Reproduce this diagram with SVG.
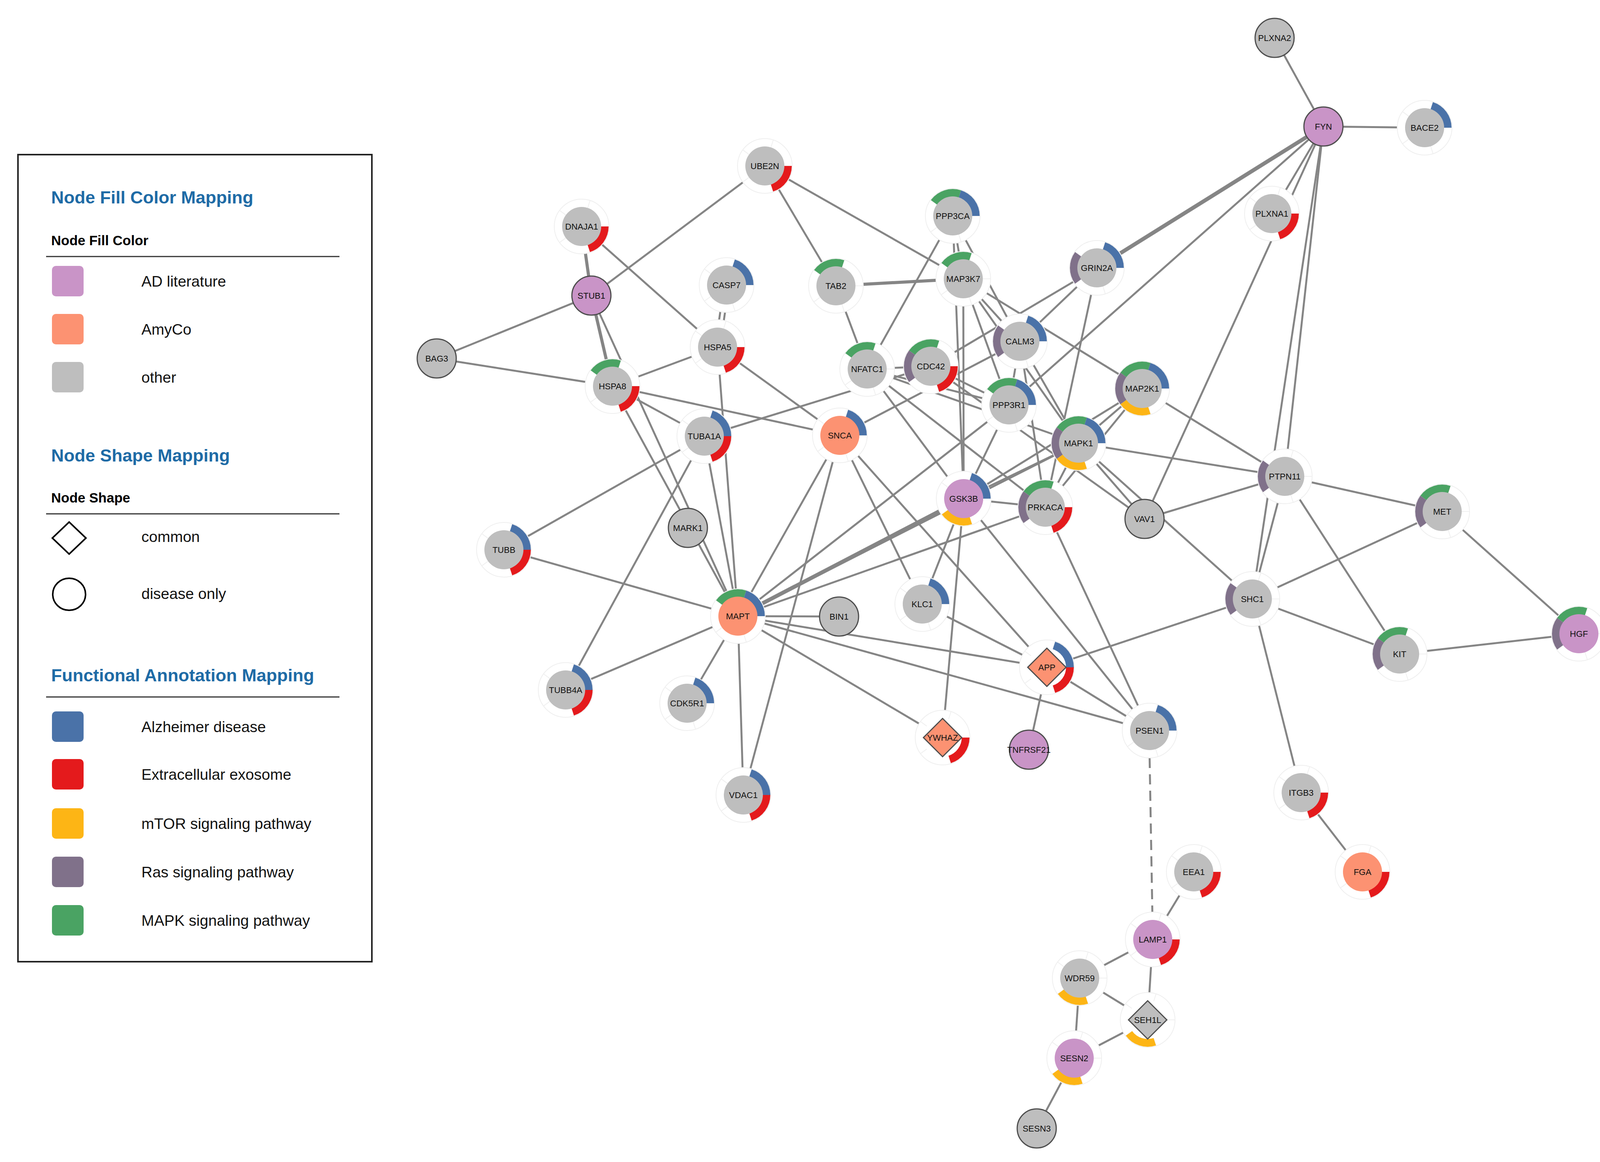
<svg xmlns="http://www.w3.org/2000/svg" xmlns:xlink="http://www.w3.org/1999/xlink" width="4125" height="2976" viewBox="0 0 4125 2976">
<style>
.e{stroke:#858585;stroke-width:5;fill:none;stroke-linecap:butt}
.tk{stroke-width:10}
.md{stroke-width:8}
.ds{stroke-dasharray:26 16}
.aB{stroke:#4a72a8;stroke-width:20;fill:none}
.aR{stroke:#e41a1c;stroke-width:20;fill:none}
.aY{stroke:#fdb515;stroke-width:20;fill:none}
.aP{stroke:#80718a;stroke-width:20;fill:none}
.aG{stroke:#4aa363;stroke-width:20;fill:none}
.ng{fill:#bebebe}
.np{fill:#c994c7}
.no{fill:#fc9272}
.bd{stroke:#4d4d4d;stroke-width:3}
.lbl{font-family:"Liberation Sans",Arial,sans-serif;font-size:22px;text-anchor:middle;fill:#111}
.lt{font-family:"Liberation Sans",Arial,sans-serif;font-size:45px;font-weight:bold;fill:#1e6ba6}
.ls{font-family:"Liberation Sans",Arial,sans-serif;font-size:35px;font-weight:bold;fill:#000}
.li{font-family:"Liberation Sans",Arial,sans-serif;font-size:39px;fill:#111}
.rule{stroke:#333;stroke-width:3}
</style>
<defs>
<g id="halo">
<circle r="70" fill="#fff" stroke="#efefef" stroke-width="2"/>
<path d="M15.45,-47.55L21.63,-66.57M50,0L70,0M15.45,47.55L21.63,66.57M-40.45,29.39L-56.63,41.15M-40.45,-29.39L-56.63,-41.15" stroke="#f0f0f0" stroke-width="2" fill="none"/>
</g>
<path id="aB" class="aB" d="M18.23,-56.11A59,59 0 0 1 59,0"/>
<path id="aR" class="aR" d="M59,0A59,59 0 0 1 18.23,56.11"/>
<path id="aY" class="aY" d="M18.23,56.11A59,59 0 0 1 -47.73,34.68"/>
<path id="aP" class="aP" d="M-47.73,34.68A59,59 0 0 1 -47.73,-34.68"/>
<path id="aG" class="aG" d="M-47.73,-34.68A59,59 0 0 1 18.23,-56.11"/>
</defs>
<rect width="4125" height="2976" fill="#fff"/>

<g id="legend">
<rect x="46" y="396" width="906" height="2067" fill="none" stroke="#222" stroke-width="4"/>
<text class="lt" x="131" y="521">Node Fill Color Mapping</text>
<text class="ls" x="131" y="628">Node Fill Color</text>
<line class="rule" x1="118" y1="657" x2="869" y2="657"/>
<rect x="133" y="681" width="81" height="78" rx="10" fill="#c994c7"/>
<text class="li" x="362" y="734">AD literature</text>
<rect x="133" y="804" width="81" height="78" rx="10" fill="#fc9272"/>
<text class="li" x="362" y="857">AmyCo</text>
<rect x="133" y="927" width="81" height="78" rx="10" fill="#bebebe"/>
<text class="li" x="362" y="980">other</text>
<text class="lt" x="131" y="1182">Node Shape Mapping</text>
<text class="ls" x="131" y="1287">Node Shape</text>
<line class="rule" x1="118" y1="1316" x2="869" y2="1316"/>
<path d="M177,1337L220,1378L177,1419L134,1378Z" fill="none" stroke="#000" stroke-width="4"/>
<text class="li" x="362" y="1388">common</text>
<ellipse cx="177" cy="1522" rx="42" ry="41" fill="none" stroke="#000" stroke-width="4"/>
<text class="li" x="362" y="1534">disease only</text>
<text class="lt" x="131" y="1745">Functional Annotation Mapping</text>
<line class="rule" x1="118" y1="1785" x2="869" y2="1785"/>
<rect x="133" y="1822" width="81" height="78" rx="10" fill="#4a72a8"/>
<text class="li" x="362" y="1875">Alzheimer disease</text>
<rect x="133" y="1944" width="81" height="78" rx="10" fill="#e41a1c"/>
<text class="li" x="362" y="1997">Extracellular exosome</text>
<rect x="133" y="2070" width="81" height="78" rx="10" fill="#fdb515"/>
<text class="li" x="362" y="2123">mTOR signaling pathway</text>
<rect x="133" y="2194" width="81" height="78" rx="10" fill="#80718a"/>
<text class="li" x="362" y="2247">Ras signaling pathway</text>
<rect x="133" y="2318" width="81" height="78" rx="10" fill="#4aa363"/>
<text class="li" x="362" y="2371">MAPK signaling pathway</text>
</g>

<g id="edges">
<line class="e" x1="3263" y1="97" x2="3388" y2="324"/>
<line class="e" x1="3388" y1="324" x2="3647" y2="327"/>
<line class="e tk" x1="3388" y1="324" x2="2808" y2="686"/>
<line class="e" x1="3388" y1="324" x2="2583" y2="1037"/>
<line class="e" x1="3388" y1="324" x2="3256" y2="547"/>
<line class="e" x1="3388" y1="324" x2="2930" y2="1329"/>
<line class="e" x1="3388" y1="324" x2="3289" y2="1220"/>
<line class="e" x1="3388" y1="324" x2="3206" y2="1534"/>
<line class="e" x1="1958" y1="425" x2="1514" y2="757"/>
<line class="e" x1="1958" y1="425" x2="2140" y2="732"/>
<line class="e" x1="1958" y1="425" x2="2466" y2="714"/>
<line class="e md" x1="1489" y1="580" x2="1514" y2="757"/>
<line class="e" x1="1489" y1="580" x2="1837" y2="889"/>
<line class="e" x1="1514" y1="757" x2="1118" y2="918"/>
<line class="e md" x1="1514" y1="757" x2="1568" y2="989"/>
<line class="e" x1="1514" y1="757" x2="1889" y2="1578"/>
<line class="e" x1="1118" y1="918" x2="1568" y2="989"/>
<line class="e" x1="1866" y1="731" x2="1843" y2="890"/>
<line class="e" x1="1854" y1="729" x2="1831" y2="888"/>
<line class="e" x1="1837" y1="889" x2="1568" y2="989"/>
<line class="e" x1="1837" y1="889" x2="2150" y2="1115"/>
<line class="e" x1="1837" y1="889" x2="1889" y2="1578"/>
<line class="e" x1="1568" y1="989" x2="2150" y2="1115"/>
<line class="e" x1="1568" y1="989" x2="1803" y2="1117"/>
<line class="e" x1="1568" y1="989" x2="1889" y2="1578"/>
<line class="e" x1="1803" y1="1117" x2="1290" y2="1408"/>
<line class="e" x1="1803" y1="1117" x2="1448" y2="1767"/>
<line class="e" x1="1803" y1="1117" x2="1889" y2="1578"/>
<line class="e" x1="1803" y1="1117" x2="2383" y2="938"/>
<line class="e" x1="1290" y1="1408" x2="1889" y2="1578"/>
<line class="e" x1="1448" y1="1767" x2="1889" y2="1578"/>
<line class="e" x1="1759" y1="1801" x2="1889" y2="1578"/>
<line class="e" x1="1903" y1="2036" x2="1889" y2="1578"/>
<line class="e" x1="1903" y1="2036" x2="2150" y2="1115"/>
<line class="e" x1="2150" y1="1115" x2="1889" y2="1578"/>
<line class="e" x1="2150" y1="1115" x2="2361" y2="1547"/>
<line class="e" x1="2150" y1="1115" x2="2680" y2="1709"/>
<line class="e" x1="2150" y1="1115" x2="2611" y2="874"/>
<line class="e" x1="1889" y1="1578" x2="2148" y2="1579"/>
<line class="e" x1="1889" y1="1578" x2="2680" y2="1709"/>
<line class="e" x1="1889" y1="1578" x2="2943" y2="1871"/>
<line class="e" x1="1889" y1="1578" x2="2413" y2="1889"/>
<line class="e tk" x1="1889" y1="1578" x2="2467" y2="1277"/>
<line class="e" x1="1889" y1="1578" x2="2761" y2="1135"/>
<line class="e" x1="1889" y1="1578" x2="2676" y2="1299"/>
<line class="e" x1="1889" y1="1578" x2="2583" y2="1037"/>
<line class="e" x1="2439" y1="553" x2="2220" y2="945"/>
<line class="e" x1="2439" y1="553" x2="2466" y2="714"/>
<line class="e" x1="2439" y1="553" x2="2467" y2="1277"/>
<line class="e" x1="2439" y1="553" x2="2611" y2="874"/>
<line class="e md" x1="2140" y1="732" x2="2466" y2="714"/>
<line class="e" x1="2140" y1="732" x2="2220" y2="945"/>
<line class="e" x1="2466" y1="714" x2="2467" y2="1277"/>
<line class="e" x1="2466" y1="714" x2="2611" y2="874"/>
<line class="e" x1="2466" y1="714" x2="2924" y2="995"/>
<line class="e" x1="2466" y1="714" x2="2583" y2="1037"/>
<line class="e" x1="2466" y1="714" x2="2761" y2="1135"/>
<line class="e" x1="2808" y1="686" x2="2611" y2="874"/>
<line class="e" x1="2808" y1="686" x2="2383" y2="938"/>
<line class="e" x1="2808" y1="686" x2="2676" y2="1299"/>
<line class="e" x1="2611" y1="874" x2="2583" y2="1037"/>
<line class="e" x1="2611" y1="874" x2="2761" y2="1135"/>
<line class="e" x1="2611" y1="874" x2="2676" y2="1299"/>
<line class="e" x1="2220" y1="945" x2="2383" y2="938"/>
<line class="e" x1="2220" y1="945" x2="2583" y2="1037"/>
<line class="e" x1="2220" y1="945" x2="2467" y2="1277"/>
<line class="e" x1="2220" y1="945" x2="2676" y2="1299"/>
<line class="e" x1="2220" y1="945" x2="2761" y2="1135"/>
<line class="e" x1="2383" y1="938" x2="2583" y2="1037"/>
<line class="e" x1="2383" y1="938" x2="2930" y2="1329"/>
<line class="e" x1="2583" y1="1037" x2="2467" y2="1277"/>
<line class="e" x1="2924" y1="995" x2="2761" y2="1135"/>
<line class="e" x1="2924" y1="995" x2="3289" y2="1220"/>
<line class="e" x1="2924" y1="995" x2="2467" y2="1277"/>
<line class="e" x1="2924" y1="995" x2="2676" y2="1299"/>
<line class="e" x1="2761" y1="1135" x2="2467" y2="1277"/>
<line class="e" x1="2761" y1="1135" x2="2676" y2="1299"/>
<line class="e" x1="2761" y1="1135" x2="2930" y2="1329"/>
<line class="e" x1="2761" y1="1135" x2="3289" y2="1220"/>
<line class="e" x1="2761" y1="1135" x2="3206" y2="1534"/>
<line class="e" x1="2467" y1="1277" x2="2676" y2="1299"/>
<line class="e" x1="2467" y1="1277" x2="2361" y2="1547"/>
<line class="e" x1="2467" y1="1277" x2="2413" y2="1889"/>
<line class="e" x1="2467" y1="1277" x2="2943" y2="1871"/>
<line class="e" x1="2676" y1="1299" x2="2943" y2="1871"/>
<line class="e" x1="2930" y1="1329" x2="3289" y2="1220"/>
<line class="e" x1="3289" y1="1220" x2="3206" y2="1534"/>
<line class="e" x1="3289" y1="1220" x2="3692" y2="1310"/>
<line class="e" x1="3289" y1="1220" x2="3583" y2="1675"/>
<line class="e" x1="3206" y1="1534" x2="3692" y2="1310"/>
<line class="e" x1="3206" y1="1534" x2="3583" y2="1675"/>
<line class="e" x1="3206" y1="1534" x2="3331" y2="2030"/>
<line class="e" x1="3206" y1="1534" x2="2680" y2="1709"/>
<line class="e" x1="3692" y1="1310" x2="4042" y2="1623"/>
<line class="e" x1="3583" y1="1675" x2="4042" y2="1623"/>
<line class="e" x1="2361" y1="1547" x2="2680" y2="1709"/>
<line class="e" x1="2680" y1="1709" x2="2634" y2="1920"/>
<line class="e" x1="2680" y1="1709" x2="2943" y2="1871"/>
<line class="e" x1="3331" y1="2030" x2="3488" y2="2233"/>
<line class="e ds" x1="2943" y1="1941" x2="2950" y2="2336"/>
<line class="e" x1="3056" y1="2233" x2="2951" y2="2406"/>
<line class="e" x1="2951" y1="2406" x2="2764" y2="2505"/>
<line class="e" x1="2951" y1="2406" x2="2938" y2="2612"/>
<line class="e" x1="2764" y1="2505" x2="2938" y2="2612"/>
<line class="e" x1="2764" y1="2505" x2="2750" y2="2710"/>
<line class="e" x1="2750" y1="2710" x2="2938" y2="2612"/>
<line class="e" x1="2750" y1="2710" x2="2654" y2="2890"/>
</g>

<g id="n-PLXNA2"><circle cx="3263" cy="97" r="50" class="ng bd"/><text class="lbl" x="3263" y="105">PLXNA2</text></g>
<g id="n-FYN"><circle cx="3388" cy="324" r="50" class="np bd"/><text class="lbl" x="3388" y="332">FYN</text></g>
<g id="n-BACE2"><use href="#halo" x="3647" y="327"/><use href="#aB" x="3647" y="327"/><circle cx="3647" cy="327" r="50" class="ng"/><text class="lbl" x="3647" y="335">BACE2</text></g>
<g id="n-UBE2N"><use href="#halo" x="1958" y="425"/><use href="#aR" x="1958" y="425"/><circle cx="1958" cy="425" r="50" class="ng"/><text class="lbl" x="1958" y="433">UBE2N</text></g>
<g id="n-PPP3CA"><use href="#halo" x="2439" y="553"/><use href="#aG" x="2439" y="553"/><use href="#aB" x="2439" y="553"/><circle cx="2439" cy="553" r="50" class="ng"/><text class="lbl" x="2439" y="561">PPP3CA</text></g>
<g id="n-PLXNA1"><use href="#halo" x="3256" y="547"/><use href="#aR" x="3256" y="547"/><circle cx="3256" cy="547" r="50" class="ng"/><text class="lbl" x="3256" y="555">PLXNA1</text></g>
<g id="n-DNAJA1"><use href="#halo" x="1489" y="580"/><use href="#aR" x="1489" y="580"/><circle cx="1489" cy="580" r="50" class="ng"/><text class="lbl" x="1489" y="588">DNAJA1</text></g>
<g id="n-GRIN2A"><use href="#halo" x="2808" y="686"/><use href="#aP" x="2808" y="686"/><use href="#aB" x="2808" y="686"/><circle cx="2808" cy="686" r="50" class="ng"/><text class="lbl" x="2808" y="694">GRIN2A</text></g>
<g id="n-MAP3K7"><use href="#halo" x="2466" y="714"/><use href="#aG" x="2466" y="714"/><circle cx="2466" cy="714" r="50" class="ng"/><text class="lbl" x="2466" y="722">MAP3K7</text></g>
<g id="n-CASP7"><use href="#halo" x="1860" y="730"/><use href="#aB" x="1860" y="730"/><circle cx="1860" cy="730" r="50" class="ng"/><text class="lbl" x="1860" y="738">CASP7</text></g>
<g id="n-TAB2"><use href="#halo" x="2140" y="732"/><use href="#aG" x="2140" y="732"/><circle cx="2140" cy="732" r="50" class="ng"/><text class="lbl" x="2140" y="740">TAB2</text></g>
<g id="n-STUB1"><circle cx="1514" cy="757" r="50" class="np bd"/><text class="lbl" x="1514" y="765">STUB1</text></g>
<g id="n-CALM3"><use href="#halo" x="2611" y="874"/><use href="#aP" x="2611" y="874"/><use href="#aB" x="2611" y="874"/><circle cx="2611" cy="874" r="50" class="ng"/><text class="lbl" x="2611" y="882">CALM3</text></g>
<g id="n-HSPA5"><use href="#halo" x="1837" y="889"/><use href="#aR" x="1837" y="889"/><circle cx="1837" cy="889" r="50" class="ng"/><text class="lbl" x="1837" y="897">HSPA5</text></g>
<g id="n-BAG3"><circle cx="1118" cy="918" r="50" class="ng bd"/><text class="lbl" x="1118" y="926">BAG3</text></g>
<g id="n-NFATC1"><use href="#halo" x="2220" y="945"/><use href="#aG" x="2220" y="945"/><circle cx="2220" cy="945" r="50" class="ng"/><text class="lbl" x="2220" y="953">NFATC1</text></g>
<g id="n-CDC42"><use href="#halo" x="2383" y="938"/><use href="#aG" x="2383" y="938"/><use href="#aP" x="2383" y="938"/><use href="#aR" x="2383" y="938"/><circle cx="2383" cy="938" r="50" class="ng"/><text class="lbl" x="2383" y="946">CDC42</text></g>
<g id="n-HSPA8"><use href="#halo" x="1568" y="989"/><use href="#aG" x="1568" y="989"/><use href="#aR" x="1568" y="989"/><circle cx="1568" cy="989" r="50" class="ng"/><text class="lbl" x="1568" y="997">HSPA8</text></g>
<g id="n-MAP2K1"><use href="#halo" x="2924" y="995"/><use href="#aG" x="2924" y="995"/><use href="#aB" x="2924" y="995"/><use href="#aP" x="2924" y="995"/><use href="#aY" x="2924" y="995"/><circle cx="2924" cy="995" r="50" class="ng"/><text class="lbl" x="2924" y="1003">MAP2K1</text></g>
<g id="n-PPP3R1"><use href="#halo" x="2583" y="1037"/><use href="#aG" x="2583" y="1037"/><use href="#aB" x="2583" y="1037"/><circle cx="2583" cy="1037" r="50" class="ng"/><text class="lbl" x="2583" y="1045">PPP3R1</text></g>
<g id="n-TUBA1A"><use href="#halo" x="1803" y="1117"/><use href="#aB" x="1803" y="1117"/><use href="#aR" x="1803" y="1117"/><circle cx="1803" cy="1117" r="50" class="ng"/><text class="lbl" x="1803" y="1125">TUBA1A</text></g>
<g id="n-SNCA"><use href="#halo" x="2150" y="1115"/><use href="#aB" x="2150" y="1115"/><circle cx="2150" cy="1115" r="50" class="no"/><text class="lbl" x="2150" y="1123">SNCA</text></g>
<g id="n-MAPK1"><use href="#halo" x="2761" y="1135"/><use href="#aG" x="2761" y="1135"/><use href="#aB" x="2761" y="1135"/><use href="#aP" x="2761" y="1135"/><use href="#aY" x="2761" y="1135"/><circle cx="2761" cy="1135" r="50" class="ng"/><text class="lbl" x="2761" y="1143">MAPK1</text></g>
<g id="n-PTPN11"><use href="#halo" x="3289" y="1220"/><use href="#aP" x="3289" y="1220"/><circle cx="3289" cy="1220" r="50" class="ng"/><text class="lbl" x="3289" y="1228">PTPN11</text></g>
<g id="n-GSK3B"><use href="#halo" x="2467" y="1277"/><use href="#aB" x="2467" y="1277"/><use href="#aY" x="2467" y="1277"/><circle cx="2467" cy="1277" r="50" class="np"/><text class="lbl" x="2467" y="1285">GSK3B</text></g>
<g id="n-PRKACA"><use href="#halo" x="2676" y="1299"/><use href="#aG" x="2676" y="1299"/><use href="#aP" x="2676" y="1299"/><use href="#aR" x="2676" y="1299"/><circle cx="2676" cy="1299" r="50" class="ng"/><text class="lbl" x="2676" y="1307">PRKACA</text></g>
<g id="n-VAV1"><circle cx="2930" cy="1329" r="50" class="ng bd"/><text class="lbl" x="2930" y="1337">VAV1</text></g>
<g id="n-MET"><use href="#halo" x="3692" y="1310"/><use href="#aG" x="3692" y="1310"/><use href="#aP" x="3692" y="1310"/><circle cx="3692" cy="1310" r="50" class="ng"/><text class="lbl" x="3692" y="1318">MET</text></g>
<g id="n-MARK1"><circle cx="1761" cy="1352" r="50" class="ng bd"/><text class="lbl" x="1761" y="1360">MARK1</text></g>
<g id="n-TUBB"><use href="#halo" x="1290" y="1408"/><use href="#aB" x="1290" y="1408"/><use href="#aR" x="1290" y="1408"/><circle cx="1290" cy="1408" r="50" class="ng"/><text class="lbl" x="1290" y="1416">TUBB</text></g>
<g id="n-SHC1"><use href="#halo" x="3206" y="1534"/><use href="#aP" x="3206" y="1534"/><circle cx="3206" cy="1534" r="50" class="ng"/><text class="lbl" x="3206" y="1542">SHC1</text></g>
<g id="n-KLC1"><use href="#halo" x="2361" y="1547"/><use href="#aB" x="2361" y="1547"/><circle cx="2361" cy="1547" r="50" class="ng"/><text class="lbl" x="2361" y="1555">KLC1</text></g>
<g id="n-BIN1"><circle cx="2148" cy="1579" r="50" class="ng bd"/><text class="lbl" x="2148" y="1587">BIN1</text></g>
<g id="n-MAPT"><use href="#halo" x="1889" y="1578"/><use href="#aG" x="1889" y="1578"/><use href="#aB" x="1889" y="1578"/><circle cx="1889" cy="1578" r="50" class="no"/><text class="lbl" x="1889" y="1586">MAPT</text></g>
<g id="n-HGF"><use href="#halo" x="4042" y="1623"/><use href="#aG" x="4042" y="1623"/><use href="#aP" x="4042" y="1623"/><circle cx="4042" cy="1623" r="50" class="np"/><text class="lbl" x="4042" y="1631">HGF</text></g>
<g id="n-KIT"><use href="#halo" x="3583" y="1675"/><use href="#aG" x="3583" y="1675"/><use href="#aP" x="3583" y="1675"/><circle cx="3583" cy="1675" r="50" class="ng"/><text class="lbl" x="3583" y="1683">KIT</text></g>
<g id="n-APP"><use href="#halo" x="2680" y="1709"/><use href="#aB" x="2680" y="1709"/><use href="#aR" x="2680" y="1709"/><path d="M2680,1660L2729,1709L2680,1758L2631,1709Z" class="no bd"/><text class="lbl" x="2680" y="1717">APP</text></g>
<g id="n-TUBB4A"><use href="#halo" x="1448" y="1767"/><use href="#aB" x="1448" y="1767"/><use href="#aR" x="1448" y="1767"/><circle cx="1448" cy="1767" r="50" class="ng"/><text class="lbl" x="1448" y="1775">TUBB4A</text></g>
<g id="n-CDK5R1"><use href="#halo" x="1759" y="1801"/><use href="#aB" x="1759" y="1801"/><circle cx="1759" cy="1801" r="50" class="ng"/><text class="lbl" x="1759" y="1809">CDK5R1</text></g>
<g id="n-YWHAZ"><use href="#halo" x="2413" y="1889"/><use href="#aR" x="2413" y="1889"/><path d="M2413,1840L2462,1889L2413,1938L2364,1889Z" class="no bd"/><text class="lbl" x="2413" y="1897">YWHAZ</text></g>
<g id="n-TNFRSF21"><circle cx="2634" cy="1920" r="50" class="np bd"/><text class="lbl" x="2634" y="1928">TNFRSF21</text></g>
<g id="n-PSEN1"><use href="#halo" x="2943" y="1871"/><use href="#aB" x="2943" y="1871"/><circle cx="2943" cy="1871" r="50" class="ng"/><text class="lbl" x="2943" y="1879">PSEN1</text></g>
<g id="n-VDAC1"><use href="#halo" x="1903" y="2036"/><use href="#aB" x="1903" y="2036"/><use href="#aR" x="1903" y="2036"/><circle cx="1903" cy="2036" r="50" class="ng"/><text class="lbl" x="1903" y="2044">VDAC1</text></g>
<g id="n-ITGB3"><use href="#halo" x="3331" y="2030"/><use href="#aR" x="3331" y="2030"/><circle cx="3331" cy="2030" r="50" class="ng"/><text class="lbl" x="3331" y="2038">ITGB3</text></g>
<g id="n-EEA1"><use href="#halo" x="3056" y="2233"/><use href="#aR" x="3056" y="2233"/><circle cx="3056" cy="2233" r="50" class="ng"/><text class="lbl" x="3056" y="2241">EEA1</text></g>
<g id="n-FGA"><use href="#halo" x="3488" y="2233"/><use href="#aR" x="3488" y="2233"/><circle cx="3488" cy="2233" r="50" class="no"/><text class="lbl" x="3488" y="2241">FGA</text></g>
<g id="n-LAMP1"><use href="#halo" x="2951" y="2406"/><use href="#aR" x="2951" y="2406"/><circle cx="2951" cy="2406" r="50" class="np"/><text class="lbl" x="2951" y="2414">LAMP1</text></g>
<g id="n-WDR59"><use href="#halo" x="2764" y="2505"/><use href="#aY" x="2764" y="2505"/><circle cx="2764" cy="2505" r="50" class="ng"/><text class="lbl" x="2764" y="2513">WDR59</text></g>
<g id="n-SEH1L"><use href="#halo" x="2938" y="2612"/><use href="#aY" x="2938" y="2612"/><path d="M2938,2563L2987,2612L2938,2661L2889,2612Z" class="ng bd"/><text class="lbl" x="2938" y="2620">SEH1L</text></g>
<g id="n-SESN2"><use href="#halo" x="2750" y="2710"/><use href="#aY" x="2750" y="2710"/><circle cx="2750" cy="2710" r="50" class="np"/><text class="lbl" x="2750" y="2718">SESN2</text></g>
<g id="n-SESN3"><circle cx="2654" cy="2890" r="50" class="ng bd"/><text class="lbl" x="2654" y="2898">SESN3</text></g>
</svg>
